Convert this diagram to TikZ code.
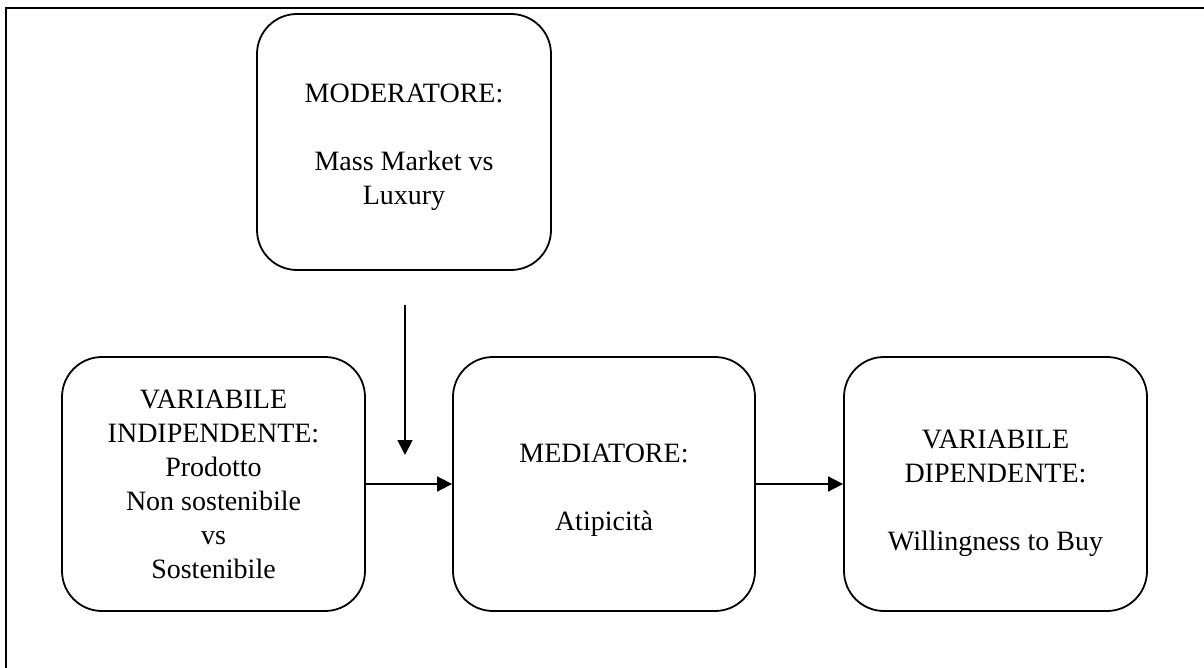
\documentclass[tikz,border=0pt]{standalone}
\usepackage{fontspec}
\setmainfont{Liberation Serif}
\usetikzlibrary{arrows.meta}
\newcommand{\tgap}[1]{\rule{0pt}{#1}}
\begin{document}
\begin{tikzpicture}[x=1pt,y=-1pt,
  box/.style={draw, line width=1.8pt, rounded corners=40pt, align=center,
    font=\fontsize{28}{34}\selectfont, inner sep=0pt},
  conn/.style={line width=1.8pt, -{Triangle[length=15pt,width=15pt]}}]
\useasboundingbox (0,0) rectangle (1204,668);
\draw[line width=1.8pt] (6,668) -- (6,8) -- (1204,8);
\node[box, minimum width=294pt, minimum height=256pt] (mod) at (404,142)
  {\tgap{28.5pt}MODERATORE:\\[34pt]Mass Market vs\\Luxury};
\node[box, minimum width=303pt, minimum height=254pt] (vi) at (213.5,484)
  {VARIABILE\\INDIPENDENTE:\\Prodotto\\Non sostenibile\\vs\\Sostenibile};
\node[box, minimum width=302pt, minimum height=254pt] (med) at (604,484)
  {\tgap{30.5pt}MEDIATORE:\\[34pt]Atipicità};
\node[box, minimum width=303pt, minimum height=254pt] (vd) at (995.5,484)
  {\tgap{36.5pt}VARIABILE\\DIPENDENTE:\\[34pt]Willingness to Buy};
\coordinate (ms) at (405,305);
\coordinate (me) at (405,455);
\draw[conn] (ms) -- (me);
\draw[conn] (vi.east) -- (med.west);
\draw[conn] (med.east) -- (vd.west);
\end{tikzpicture}
\end{document}
